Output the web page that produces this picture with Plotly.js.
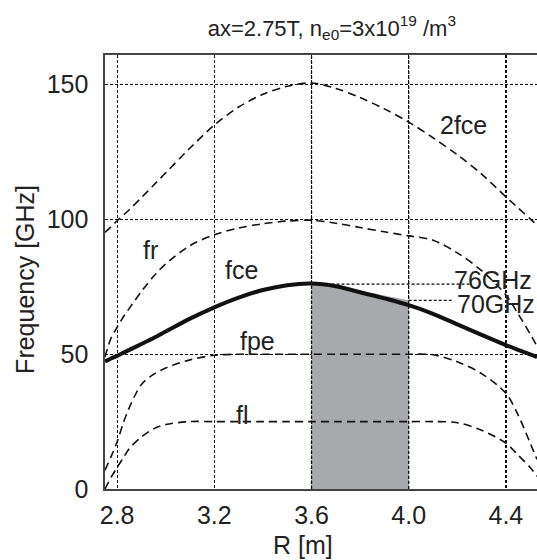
<!DOCTYPE html>
<html>
<head>
<meta charset="utf-8">
<script src="https://cdn.plot.ly/plotly-3.0.1.min.js"></script>
<style>html,body{margin:0;padding:0;background:#fff;overflow:hidden}#chart{width:537px;height:560px}</style>
</head>
<body>
<div id="chart"></div>
<script>
// Major radius R [m]
const R = [2.75, 2.775, 2.8, 2.825, 2.85, 2.9, 2.95, 3.0, 3.1, 3.2, 3.3, 3.4, 3.5, 3.6, 3.7, 3.8, 3.9, 4.0, 4.1, 4.2, 4.3, 4.4, 4.45, 4.5, 4.528];
// Frequencies [GHz]
const fce  = [47.3, 48.4, 49.4, 50.5, 51.6, 53.8, 56.0, 58.4, 63.2, 67.4, 71.0, 73.8, 75.6, 76.2, 75.2, 73.0, 70.7, 68.2, 65.0, 61.1, 57.2, 53.4, 51.6, 49.9, 48.9];
const f2ce = [95.2, 97.3, 99.5, 101.6, 103.6, 108.1, 112.7, 117.3, 126.5, 135.0, 141.7, 146.4, 149.4, 150.6, 148.6, 145.2, 141.0, 136.1, 130.3, 124.0, 116.8, 108.4, 104.3, 100.2, 98.0];
const fr   = [49, 56, 60, 63.8, 67, 73.3, 78.9, 83.5, 90.3, 94.3, 96.8, 98.4, 99.4, 99.7, 98.6, 97.0, 95.4, 93.9, 92.3, 87.6, 81.0, 72.0, 65.0, 57.5, 53];
const fpe  = [7, 12, 17.5, 24.4, 30.2, 38.8, 42.5, 44.9, 47.9, 49.6, 50, 50, 50, 50, 50, 50, 50, 50, 49.8, 47.2, 42.8, 35.5, 27.5, 17, 11];
const fl   = [0, 4.3, 8.0, 11.5, 15.0, 19.3, 22.3, 23.9, 25, 25, 25, 25, 25, 25, 25, 25, 25, 25, 25, 24.6, 21.8, 17.0, 12.6, 8.0, 4.7];
// Shaded access band
const shadeR   = [3.6, 3.7, 3.8, 3.9, 4.0];
const shadeTop = [76.2, 75.4, 73.5, 71.8, 70.0];
// Reference frequency markers
const refLabels = ['76GHz', '70GHz'];
const refLevels = [76, 70];
const refStart  = [3.6, 4.0];
const refEnd    = [4.26, 4.18];
// Tick labels
const xTicks = [2.8, 3.2, 3.6, 4.0, 4.4];
const yTicks = [0, 50, 100, 150];

const FONT = 'Liberation Sans, Arial, sans-serif';
const FS = 25;
const dashed = {color: '#111', width: 1.6, dash: '8px,5px', shape: 'spline', smoothing: 0.9};
const dotted = {color: '#111', width: 1.3, dash: '3px,2px'};

const traces = [
  {x: shadeR, y: shadeTop, type: 'scatter', mode: 'lines', fill: 'tozeroy',
   fillcolor: '#a8a9ad', line: {width: 0, color: '#a8a9ad', shape: 'spline'}, hoverinfo: 'skip'},
  {x: R, y: f2ce, type: 'scatter', mode: 'lines', line: dashed, name: '2fce'},
  {x: R, y: fr,   type: 'scatter', mode: 'lines', line: dashed, name: 'fr'},
  {x: R, y: fpe,  type: 'scatter', mode: 'lines', line: dashed, name: 'fpe'},
  {x: R, y: fl,   type: 'scatter', mode: 'lines', line: dashed, name: 'fl'}
];
refLevels.forEach((lv, i) => {
  traces.push({x: [refStart[i], refEnd[i]], y: [lv, lv], type: 'scatter', mode: 'lines', line: dotted, name: refLabels[i]});
});
traces.push({x: R, y: fce, type: 'scatter', mode: 'lines',
  line: {color: '#111', width: 4, shape: 'spline', smoothing: 0.9}, name: 'fce'});

const font = {family: FONT, size: FS, color: '#222'};
const lab = (t, x, y, extra) => Object.assign({text: t, x: x, y: y, xref: 'x', yref: 'y',
  xanchor: 'center', yanchor: 'middle', showarrow: false, font: font}, extra || {});

const annotations = [
  lab('2fce', 4.227, 134.9),
  lab('fr', 2.939, 88.7),
  lab('fce', 3.313, 81.2),
  lab('fpe', 3.379, 55.0),
  lab('fl', 3.315, 27.5),
  lab(refLabels[0], 4.178, 77.7, {xanchor: 'left'}),
  lab(refLabels[1], 4.192, 68.7, {xanchor: 'left'}),
  {text: 'R [m]', xref: 'paper', yref: 'paper', x: 0.458, y: -0.128, xanchor: 'center', yanchor: 'middle',
   showarrow: false, font: font},
  {text: 'Frequency [GHz]', xref: 'paper', yref: 'paper', x: -0.185, y: 0.482, xanchor: 'center', yanchor: 'middle',
   textangle: -90, showarrow: false, font: font}
];

const shapes = shadeR.filter((v, i) => i === 0 || i === shadeR.length - 1).map(v => ({
  type: 'line', xref: 'x', yref: 'y', x0: v, x1: v, y0: 0, y1: 161, layer: 'above',
  line: {color: '#111', width: 1.3, dash: '3px,2px'}
}));

const layout = {
  width: 537, height: 560,
  margin: {l: 105, r: 0, t: 55, b: 71},
  paper_bgcolor: '#fff', plot_bgcolor: '#fff',
  showlegend: false,
  title: {text: 'ax=2.75T, n<sub>e0</sub>=3x10<sup>19</sup> /m<sup>3</sup>',
    xref: 'container', yref: 'container', x: 0.618, y: 0.95, xanchor: 'center', yanchor: 'middle',
    font: {family: FONT, size: 22, color: '#222'}},
  xaxis: {range: [2.75, 4.528], tickvals: xTicks, ticktext: xTicks.map(v => v.toFixed(1)),
    showgrid: true, gridcolor: '#111', gridwidth: 1.3, griddash: '3px,2px',
    zeroline: false, showline: true, linecolor: '#444', linewidth: 1.6, mirror: true,
    ticks: '', ticklabelstandoff: 3, tickfont: font},
  yaxis: {range: [0, 161], tickvals: yTicks, ticktext: yTicks.map(String),
    showgrid: true, gridcolor: '#111', gridwidth: 1.3, griddash: '3px,2px',
    zeroline: false, showline: true, linecolor: '#444', linewidth: 1.6, mirror: false,
    ticks: '', ticklabelstandoff: 10, tickfont: font},
  annotations: annotations,
  shapes: shapes
};

Plotly.newPlot('chart', traces, layout, {displayModeBar: false, staticPlot: true});
</script>
</body>
</html>
